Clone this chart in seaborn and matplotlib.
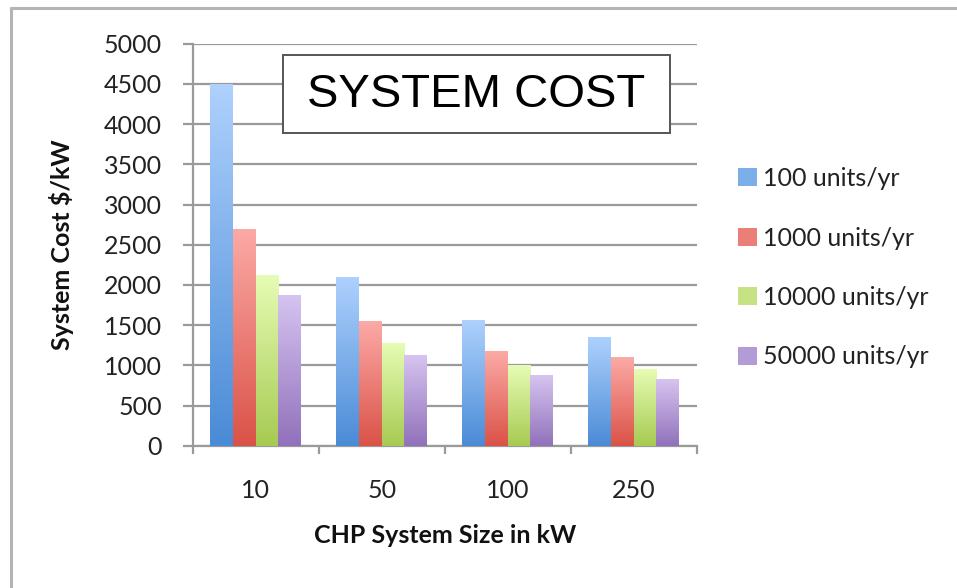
import numpy as np
import pandas as pd
import matplotlib
matplotlib.use("Agg")
import matplotlib.pyplot as plt
from matplotlib.colors import LinearSegmentedColormap
from matplotlib.patches import Rectangle
from matplotlib.lines import Line2D
import seaborn as sns

# ---- data ----
sizes = ["10", "50", "100", "250"]
volumes = ["100 units/yr", "1000 units/yr", "10000 units/yr", "50000 units/yr"]
cost_100 = [4500, 2100, 1560, 1350]
cost_1000 = [2700, 1550, 1180, 1100]
cost_10000 = [2120, 1280, 1000, 950]
cost_50000 = [1880, 1130, 880, 830]

# gradient colours for each series: (bottom, top)
shades = [("#4a8bd6", "#aed1fd"),
          ("#da5247", "#fcaaa6"),
          ("#a7ca52", "#e6fcb4"),
          ("#9171bb", "#d6c4f0")]

df = pd.DataFrame({
    "size": sizes * 4,
    "volume": np.repeat(volumes, len(sizes)).tolist(),
    "cost": cost_100 + cost_1000 + cost_10000 + cost_50000,
})

sns.set_theme(style="white")
plt.rcParams["font.family"] = ["Lato", "DejaVu Sans"]

W, H = 957, 588
PX = 72 / 100  # points per pixel at 100 dpi
fig = plt.figure(figsize=(W / 100, H / 100), dpi=100)
ax = fig.add_axes([192.7 / W, 1 - 445.7 / H, 504 / W, 402 / H])

mid_colors = [matplotlib.colors.to_hex(
    0.5 * np.array(matplotlib.colors.to_rgb(a)) + 0.5 * np.array(matplotlib.colors.to_rgb(b)))
    for a, b in shades]

sns.barplot(data=df, x="size", y="cost", hue="volume", order=sizes,
            hue_order=volumes, palette=mid_colors, width=0.72, gap=0,
            errorbar=None, legend=False, ax=ax, zorder=3)

# vertical gradient fill for each bar, clipped to the bar shape
grad = np.linspace(0, 1, 256).reshape(-1, 1)
for i, container in enumerate(ax.containers):
    cmap = LinearSegmentedColormap.from_list(f"g{i}", shades[i])
    for bar in container:
        x0, y0 = bar.get_x(), bar.get_y()
        w, h = bar.get_width(), bar.get_height()
        im = ax.imshow(grad, cmap=cmap, origin="lower", aspect="auto",
                       extent=(x0, x0 + w, y0, y0 + h), zorder=3.5,
                       interpolation="bilinear")
        im.set_clip_path(bar)
        bar.set_facecolor("none")
        bar.set_edgecolor("none")

ax.set_xlim(-0.5, 3.5)
ax.set_ylim(0, 5000)
ax.set_yticks(np.arange(0, 5001, 500))
ax.set_xticks(range(len(sizes)))
ax.set_xticklabels(sizes)
ax.set_xticks(np.arange(-0.5, 3.6, 1), minor=True)

grid_col = "#9a9a9a"
ax.yaxis.grid(True, color=grid_col, linewidth=1.6, zorder=0)
ax.set_axisbelow(True)
for s in ["top", "right"]:
    ax.spines[s].set_visible(False)
for s in ["left", "bottom"]:
    ax.spines[s].set_color(grid_col)
    ax.spines[s].set_linewidth(1.6)

ax.tick_params(axis="y", which="major", left=True, length=10 * PX, width=1.6,
               color=grid_col, pad=21 * PX, labelsize=18, labelcolor="#222222")
ax.tick_params(axis="x", which="major", bottom=False, pad=25 * PX,
               labelsize=18, labelcolor="#222222")
ax.tick_params(axis="x", which="minor", bottom=True, length=8 * PX, width=1.6,
               color=grid_col)

ax.set_xlabel("CHP System Size in kW", fontsize=18, fontweight="bold",
              color="#111111", labelpad=22 * PX)
ax.set_ylabel("System Cost $/kW", fontsize=18, fontweight="bold",
              color="#111111", labelpad=30 * PX)

# legend on the right
handles = [Rectangle((0, 0), 1, 1, facecolor=c, edgecolor="none") for c in mid_colors]
leg = fig.legend(handles, volumes, loc="upper left",
                 bbox_to_anchor=(728 / W, 1 - 157 / H), frameon=False,
                 fontsize=18, handlelength=0.75, handleheight=0.75,
                 handletextpad=0.25, labelspacing=1.46, borderaxespad=0)
for t in leg.get_texts():
    t.set_color("#222222")

# boxed heading
fig.patches.append(Rectangle((283 / W, 1 - 133 / H), 387 / W, 78 / H,
                             transform=fig.transFigure, facecolor="white",
                             edgecolor="#555555", linewidth=1.4, zorder=5))
fig.text(476 / W, 1 - 95 / H, "SYSTEM COST", ha="center", va="center",
         fontsize=34, family="Liberation Sans", color="black", zorder=6)

# outer chart frame
fig.add_artist(Line2D([11 / W, 11 / W], [0, 1 - 8 / H], color="#b4b4b4",
                      linewidth=2.2, transform=fig.transFigure))
fig.add_artist(Line2D([11 / W, 1], [1 - 8 / H, 1 - 8 / H], color="#b4b4b4",
                      linewidth=2.2, transform=fig.transFigure))

fig.savefig("out.png", dpi=100, facecolor="white")
